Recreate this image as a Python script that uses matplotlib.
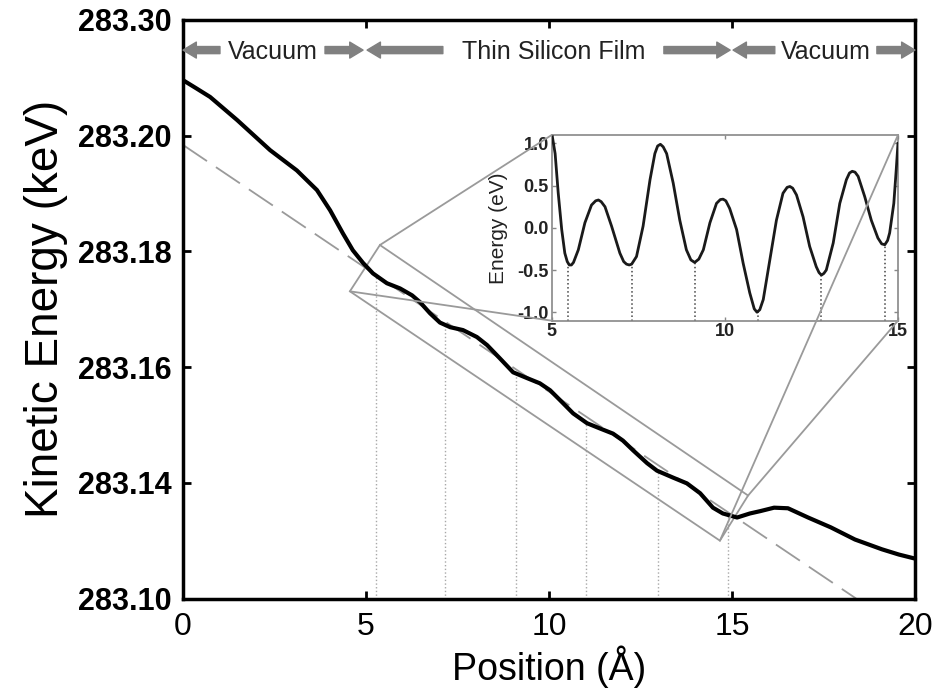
import matplotlib
matplotlib.use('Agg')
import matplotlib.pyplot as plt
import numpy as np
from matplotlib.patches import Polygon, ConnectionPatch

plt.rcParams['font.family'] = ['Liberation Sans', 'DejaVu Sans']

# kinetic energy of the electron along the beam path
position = [0.00, 0.36, 0.74, 1.48, 2.38, 3.11, 3.66, 4.02, 4.37, 4.64,
            4.92, 5.19, 5.57, 5.93, 6.26, 6.48, 6.75, 7.02, 7.30, 7.65,
            8.03, 8.31, 8.66, 9.02, 9.40, 9.75, 10.03, 10.30, 10.66, 11.04,
            11.39, 11.75, 12.02, 12.30, 12.68, 12.95, 13.39, 13.77, 14.13, 14.48,
            14.75, 15.14, 15.49, 15.77, 16.15, 16.53, 17.08, 17.70, 18.36, 19.10,
            19.56, 20.00]
kinetic_energy = [283.1896, 283.1882, 283.1867, 283.1827, 283.1775, 283.1740,
                  283.1706, 283.1671, 283.1631, 283.1602, 283.1580, 283.1562,
                  283.1545, 283.1536, 283.1524, 283.1512, 283.1493, 283.1477,
                  283.1469, 283.1464, 283.1452, 283.1438, 283.1415, 283.1391,
                  283.1381, 283.1372, 283.1360, 283.1343, 283.1320, 283.1303,
                  283.1294, 283.1285, 283.1273, 283.1256, 283.1234, 283.1221,
                  283.1209, 283.1199, 283.1182, 283.1157, 283.1147, 283.1140,
                  283.1147, 283.1151, 283.1157, 283.1156, 283.1140, 283.1123,
                  283.1102, 283.1085, 283.1076, 283.1069]

# linear energy-loss trend
trend_position = [0.0, 18.39]
trend_energy = [283.1784, 283.10]

# atomic plane positions in the film
well_position = [5.26, 7.17, 9.10, 11.00, 12.98, 14.89]

# residual potential inside the film after removing the trend
inset_position = [5.02, 5.10, 5.19, 5.29, 5.38, 5.45, 5.51, 5.57, 5.63, 5.77,
                  5.96, 6.15, 6.27, 6.35, 6.43, 6.54, 6.73, 6.97, 7.08, 7.16,
                  7.24, 7.31, 7.45, 7.64, 7.84, 7.98, 8.06, 8.14, 8.22, 8.32,
                  8.51, 8.70, 8.89, 9.02, 9.13, 9.25, 9.38, 9.57, 9.76, 9.87,
                  9.95, 10.03, 10.14, 10.34, 10.53, 10.72, 10.85, 10.93, 11.01, 11.11,
                  11.30, 11.49, 11.68, 11.80, 11.88, 11.96, 12.07, 12.26, 12.45, 12.64,
                  12.72, 12.79, 12.86, 12.93, 13.13, 13.32, 13.51, 13.60, 13.68, 13.76,
                  13.85, 14.04, 14.23, 14.42, 14.53, 14.62, 14.70, 14.76, 14.88, 14.95,
                  15.0]
inset_energy = [1.08, 0.88, 0.41, -0.02, -0.30, -0.40, -0.44, -0.44, -0.41, -0.26,
                0.06, 0.27, 0.32, 0.33, 0.31, 0.25, 0.02, -0.30, -0.40, -0.43,
                -0.44, -0.43, -0.34, 0.02, 0.57, 0.88, 0.97, 0.99, 0.96, 0.88,
                0.53, 0.09, -0.26, -0.38, -0.41, -0.37, -0.26, 0.06, 0.29, 0.335,
                0.34, 0.32, 0.23, -0.02, -0.42, -0.77, -0.96, -1.0, -0.97, -0.85,
                -0.38, 0.09, 0.41, 0.48, 0.49, 0.47, 0.39, 0.13, -0.22, -0.46,
                -0.53, -0.56, -0.54, -0.50, -0.18, 0.29, 0.57, 0.65, 0.67, 0.66,
                0.61, 0.37, 0.09, -0.12, -0.19, -0.20, -0.15, -0.06, 0.29, 0.69,
                1.0]
inset_well_position = [5.48, 7.33, 9.14, 10.97, 12.78, 14.63]

ytick_values = [283.10, 283.12, 283.14, 283.16, 283.18, 283.20]
ytick_labels = ['283.10', '283.14', '283.16', '283.18', '283.20', '283.30']
xtick_values = [0, 5, 10, 15, 20]
inset_yticks = [-1.0, -0.5, 0.0, 0.5, 1.0]

# corners of the zoomed region around the film
zoom_box = [(4.56, 283.1531), (5.38, 283.1611), (15.44, 283.1178), (14.67, 283.1100)]

# region names, their bounds and where the arrow shafts start
region_names = ['Vacuum', 'Thin Silicon Film', 'Vacuum']
region_bounds = [(0.0, 4.92), (5.03, 14.95), (15.03, 20.0)]
region_arrow_tails = [(1.01, 3.88), (7.10, 13.14), (16.17, 18.96)]

fig = plt.figure(figsize=(9.39, 6.92), dpi=100)
ax = fig.add_axes([0.1949, 0.1351, 0.7795, 0.836])

ax.plot(trend_position, trend_energy, color='#9a9a9a', lw=1.3,
        dashes=(16, 6), zorder=2)

well_top = np.interp(well_position, position, kinetic_energy)
ax.vlines(well_position, 283.10, well_top, colors='#a8a8a8',
          linestyles=':', lw=1.0, zorder=1)

ax.add_patch(Polygon(zoom_box, closed=True, fill=False,
                     edgecolor='#9a9a9a', lw=1.3, zorder=2))

ax.plot(position, kinetic_energy, color='black', lw=3.0,
        solid_joinstyle='round', zorder=3)

ax.set_xlim(0, 20)
ax.set_ylim(283.10, 283.20)
ax.set_xticks(xtick_values)
ax.set_xticklabels([str(v) for v in xtick_values])
ax.set_yticks(ytick_values)
ax.set_yticklabels(ytick_labels, fontweight='bold')

ax.tick_params(axis='both', direction='in', length=6, width=2,
               top=True, right=True, colors='black')
ax.tick_params(axis='x', labelsize=23, pad=10)
ax.tick_params(axis='y', labelsize=22, pad=8)
for spine in ax.spines.values():
    spine.set_linewidth(2.5)

ax.set_xlabel('Position (Å)', fontsize=27)
ax.set_ylabel('Kinetic Energy (keV)', fontsize=33)
ax.xaxis.set_label_coords(0.5, -0.082)
ax.yaxis.set_label_coords(-0.157, 0.5)

# region arrows along the top
arrow_y = 0.948
arrow_props = dict(arrowstyle='simple,head_length=0.6,head_width=0.72,tail_width=0.32',
                   color='#808080', shrinkA=0, shrinkB=0, mutation_scale=16)
for name, (lo, hi), (tail_l, tail_r) in zip(region_names, region_bounds, region_arrow_tails):
    ax.annotate('', xy=(lo, arrow_y), xytext=(tail_l, arrow_y),
                xycoords=('data', 'axes fraction'), textcoords=('data', 'axes fraction'),
                arrowprops=arrow_props, annotation_clip=False)
    ax.annotate('', xy=(hi, arrow_y), xytext=(tail_r, arrow_y),
                xycoords=('data', 'axes fraction'), textcoords=('data', 'axes fraction'),
                arrowprops=arrow_props, annotation_clip=False)
    ax.text((tail_l + tail_r) / 2, arrow_y - 0.004, name, fontsize=18, color='#222222',
            ha='center', va='center', transform=ax.get_xaxis_transform())

# inset with the residual potential
axin = fig.add_axes([0.5875, 0.5366, 0.3688, 0.2683])
axin.plot(inset_position, inset_energy, color='#1a1a1a', lw=2.0,
          solid_joinstyle='round', zorder=3)
inset_well_top = np.interp(inset_well_position, inset_position, inset_energy)
axin.vlines(inset_well_position, -1.1, inset_well_top, colors='#444444',
            linestyles=':', lw=1.1, zorder=2)
axin.set_xlim(5, 15)
axin.set_ylim(-1.1, 1.1)
axin.set_xticks([5, 10, 15])
axin.set_xticklabels(['5', '10', '15'], fontweight='bold')
axin.set_yticks(inset_yticks)
axin.set_yticklabels(['%.1f' % v for v in inset_yticks], fontweight='bold')
axin.tick_params(axis='both', direction='in', length=3, width=1,
                 top=True, right=True, color='#888888',
                 labelcolor='#222222', labelsize=13, pad=2)
for spine in axin.spines.values():
    spine.set_color('#888888')
    spine.set_linewidth(1.2)
axin.set_ylabel('Energy (eV)', fontsize=15, color='#222222')
axin.yaxis.set_label_coords(-0.125, 0.5)

# lines joining the zoom box to the inset corners
for corner, inset_corner in zip([zoom_box[1], zoom_box[0], zoom_box[3], zoom_box[2]],
                                [(0, 1), (0, 0), (1, 1), (1, 0)]):
    con = ConnectionPatch(xyA=corner, coordsA=ax.transData,
                          xyB=inset_corner, coordsB=axin.transAxes,
                          color='#9a9a9a', lw=1.3)
    fig.add_artist(con)

fig.savefig('out.png', dpi=100)
